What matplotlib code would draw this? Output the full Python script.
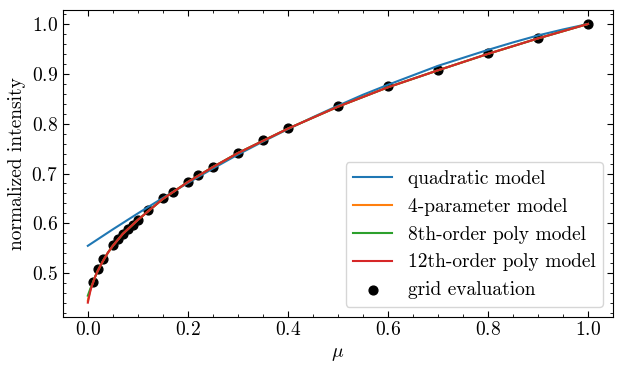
import matplotlib
matplotlib.use("Agg")
import matplotlib.pyplot as plt
from matplotlib.ticker import AutoMinorLocator

# Computer Modern look
plt.rcParams["font.family"] = "serif"
plt.rcParams["font.serif"] = ["cmr10"]
plt.rcParams["mathtext.fontset"] = "cm"
plt.rcParams["axes.formatter.use_mathtext"] = True
plt.rcParams["font.size"] = 14

# grid evaluation points
mu_grid = [0.01, 0.02, 0.03, 0.05, 0.06, 0.07, 0.08, 0.09, 0.1, 0.12, 0.15, 0.17,
           0.2, 0.22, 0.25, 0.3, 0.35, 0.4, 0.5, 0.6, 0.7, 0.8, 0.9, 1.0]
I_grid = [0.482, 0.508, 0.528, 0.557, 0.568, 0.579, 0.588, 0.597, 0.607, 0.627, 0.650, 0.663,
          0.683, 0.697, 0.714, 0.742, 0.768, 0.791, 0.835, 0.875, 0.908, 0.942, 0.972, 1.0]

# model curves
mu_quad = [0.0, 0.05, 0.1, 0.15, 0.2, 0.25, 0.3, 0.35, 0.4, 0.45, 0.5, 0.55,
           0.6, 0.65, 0.7, 0.75, 0.8, 0.85, 0.9, 0.95, 1.0]
I_quad = [0.555, 0.588, 0.620, 0.651, 0.681, 0.710, 0.738, 0.764, 0.789, 0.813, 0.836, 0.858,
          0.878, 0.897, 0.916, 0.932, 0.948, 0.963, 0.977, 0.989, 1.0]

mu_fine = [0.0, 0.0025, 0.005, 0.0075, 0.01, 0.015, 0.02, 0.03, 0.04, 0.05, 0.07, 0.1,
           0.15, 0.2, 0.25, 0.3, 0.4, 0.5, 0.6, 0.7, 0.8, 0.9, 1.0]
I_4par = [0.445, 0.456, 0.466, 0.474, 0.480, 0.494, 0.505, 0.524, 0.541, 0.555, 0.579, 0.607,
          0.649, 0.683, 0.713, 0.741, 0.790, 0.834, 0.873, 0.907, 0.940, 0.971, 1.0]
I_8th = [0.455, 0.462, 0.469, 0.475, 0.481, 0.494, 0.505, 0.524, 0.541, 0.555, 0.579, 0.607,
         0.649, 0.683, 0.713, 0.741, 0.790, 0.834, 0.873, 0.907, 0.940, 0.971, 1.0]
I_12th = [0.441, 0.453, 0.464, 0.473, 0.480, 0.494, 0.505, 0.524, 0.541, 0.555, 0.579, 0.607,
          0.649, 0.683, 0.713, 0.741, 0.790, 0.834, 0.873, 0.907, 0.940, 0.971, 1.0]

fig, ax = plt.subplots(figsize=(6.22, 3.72), dpi=100)
fig.subplots_adjust(left=0.101, right=0.9855, top=0.973, bottom=0.149)

ax.plot(mu_quad, I_quad, color="C0", lw=1.5, label="quadratic model")
ax.plot(mu_fine, I_4par, color="C1", lw=1.5, label="4-parameter model")
ax.plot(mu_fine, I_8th, color="C2", lw=1.5, label="8th-order poly model")
ax.plot(mu_fine, I_12th, color="C3", lw=1.5, label="12th-order poly model")
ax.scatter(mu_grid, I_grid, color="black", s=40, label="grid evaluation")

ax.set_xlabel(r"$\mu$")
ax.set_ylabel("normalized intensity")

ax.xaxis.set_minor_locator(AutoMinorLocator(4))
ax.yaxis.set_minor_locator(AutoMinorLocator(5))
ax.tick_params(which="both", direction="in", top=True, right=True)
ax.tick_params(which="major", length=4)
ax.tick_params(which="minor", length=2)

ax.legend(loc="lower right")

plt.savefig("out.png", dpi=100)
